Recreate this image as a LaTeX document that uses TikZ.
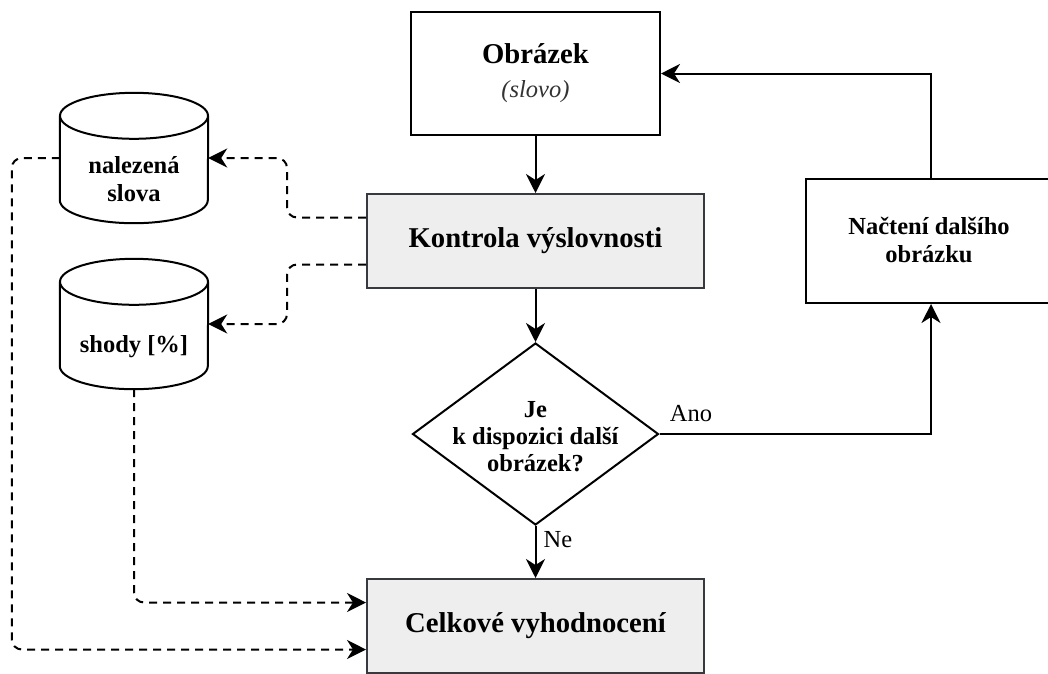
\documentclass[tikz,border=0pt]{standalone}
\usepackage{fontspec}
\setmainfont{Liberation Serif}
\usetikzlibrary{arrows.meta,shapes.geometric,calc}

\definecolor{procfill}{HTML}{EEEEEE}
\definecolor{procline}{HTML}{36393D}
\definecolor{subtext}{HTML}{333333}

\begin{document}
\begin{tikzpicture}[x=1pt,y=-1pt,
  box/.style={draw=black,line width=2pt,fill=white,inner sep=0pt,align=center},
  graybox/.style={box,draw=procline,fill=procfill},
  bigtxt/.style={font=\fontsize{28.7}{34}\selectfont\bfseries},
  smalltxt/.style={font=\fontsize{24.5}{28}\selectfont\bfseries,align=center,inner sep=0pt},
  lbl/.style={font=\fontsize{24.5}{28}\selectfont,inner sep=0pt},
  tip/.style={-{Stealth[length=19pt,width=19pt,inset=6pt]}},
  flow/.style={line width=2pt,tip},
  data/.style={line width=2pt,dash pattern=on 8pt off 6pt,rounded corners=10pt,tip},
  cylbody/.style={minimum width=148pt,minimum height=130pt,inner sep=0pt},
  cyl/.style={line width=2pt,fill=white}
]
\useasboundingbox (0,0) rectangle (1048,673);
\clip (0,0) rectangle (1048,673);

% main process boxes
\node[box,bigtxt,minimum width=249pt,minimum height=123pt] (obr) at (535.5,73.5)
  {Obrázek\\{\fontsize{24.5}{34}\selectfont\mdseries\itshape\color{subtext}(slovo)}};
\node[graybox,bigtxt,minimum width=337pt,minimum height=94pt] (kon) at (535.5,241)
  {Kontrola výslovnosti};
\node[draw=black,line width=2pt,fill=white,diamond,inner sep=0pt,
  minimum width=246pt,minimum height=182pt] (dec) at (535.5,434) {};
\node[smalltxt,font=\fontsize{24.5}{27}\selectfont\bfseries] (dectxt) at (535.5,437)
  {Je\\k dispozici další\\obrázek?};
\node[graybox,bigtxt,minimum width=337pt,minimum height=94pt] (cel) at (535.5,626)
  {Celkové vyhodnocení};
\node[box,minimum width=250pt,minimum height=124pt] (nac) at (931,241) {};
\node[smalltxt] (nactxt) at (929,240.5) {Načtení dalšího\\obrázku};

% data stores
\node[cylbody] (nal) at (134,158) {};
\draw[cyl] ($(nal.north west)+(0,23)$) -- ($(nal.south west)+(0,-23)$)
  arc[start angle=180,end angle=360,x radius=74pt,y radius=23pt]
  -- ($(nal.north east)+(0,23)$);
\draw[cyl] ($(nal.north)+(0,23)$) ellipse[x radius=74pt,y radius=23pt];
\node[smalltxt] (naltxt) at (134,179) {nalezená\\slova};

\node[cylbody] (sho) at (134,324) {};
\draw[cyl] ($(sho.north west)+(0,23)$) -- ($(sho.south west)+(0,-23)$)
  arc[start angle=180,end angle=360,x radius=74pt,y radius=23pt]
  -- ($(sho.north east)+(0,23)$);
\draw[cyl] ($(sho.north)+(0,23)$) ellipse[x radius=74pt,y radius=23pt];
\node[smalltxt] (shotxt) at (134,347) {shody [\%]};

% control flow
\draw[flow] (obr.south) -- (kon.north);
\draw[flow] (kon.south) -- (dec.north);
\draw[flow] (dec.south) -- (cel.north);
\draw[flow] (dec.east) -| (nac.south);
\draw[flow] (nac.north) |- (obr.east);
\node[lbl] (ano) at (691,414) {Ano};
\node[lbl] (ne) at (558,540) {Ne};

% data flow
\draw[data] ($(kon.west)+(0,-23.5)$) -- ++(-79,0) |- (nal.east);
\draw[data] ($(kon.west)+(0,23.5)$) -- ++(-79,0) |- (sho.east);
\draw[data] (nal.west) -- ++(-48,0) |- ($(cel.west)+(0,23.5)$);
\draw[data] (sho.south) |- ($(cel.west)+(0,-23.5)$);
\end{tikzpicture}
\end{document}
